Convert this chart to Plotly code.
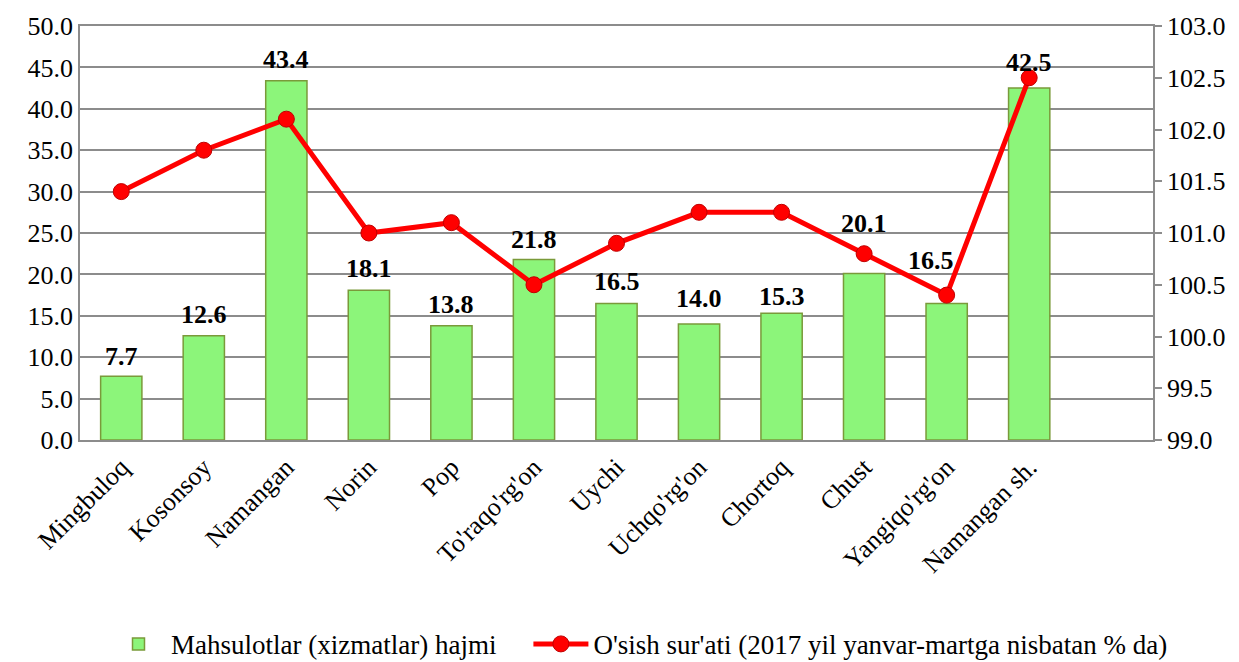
import plotly.graph_objects as go

categories = ["Mingbuloq", "Kosonsoy", "Namangan", "Norin", "Pop", "To'raqo'rg'on",
              "Uychi", "Uchqo'rg'on", "Chortoq", "Chust", "Yangiqo'rg'on", "Namangan sh."]
volume = [7.7, 12.6, 43.4, 18.1, 13.8, 21.8, 16.5, 14.0, 15.3, 20.1, 16.5, 42.5]
growth = [101.4, 101.8, 102.1, 101.0, 101.1, 100.5, 100.9, 101.2, 101.2, 100.8, 100.4, 102.5]

# label offsets (pixels) above each bar top, as placed in the reference
label_dy = [20, 21, 21, 22, 21, 20, 22, 26, 17, 50, 43, 26]
label_dx = [0, 0, 0, 0, 0, 0, 0, 0, 0, 0, -16, 0]

bar_name = "Mahsulotlar (xizmatlar) hajmi"
line_name = "O'sish sur'ati (2017 yil yanvar-martga nisbatan % da)"

FONT = "Liberation Serif"
GRID = "#8c8c8c"
FS = 26

fig = go.Figure()
fig.add_trace(go.Bar(
    x=categories, y=volume, name=bar_name + "\u00a0" * 4, width=0.5,
    marker=dict(color="#8cf57a", line=dict(color="#7a9a3a", width=1.5)),
))
fig.add_trace(go.Scatter(
    x=categories, y=growth, name=line_name, yaxis="y2", mode="lines+markers",
    line=dict(color="#ff0000", width=5),
    marker=dict(size=16, color="#ff0000", line=dict(color="#c00000", width=1)),
    cliponaxis=False,
))

for c, v, dy, dx in zip(categories, volume, label_dy, label_dx):
    fig.add_annotation(
        x=c, y=v, xref="x", yref="y", text=f"{v:.1f}", showarrow=False,
        yanchor="middle", xanchor="center", yshift=dy, xshift=dx,
        font=dict(family=FONT, size=FS, color="black", weight="bold"),
    )

fig.update_layout(
    width=1231, height=654,
    margin=dict(l=72, r=86, t=18, b=222, autoexpand=False),
    plot_bgcolor="white", paper_bgcolor="white",
    font=dict(family=FONT, size=FS, color="black"),
    showlegend=True,
    legend=dict(orientation="h", x=0.513, xanchor="center", xref="container",
                y=0.027, yanchor="middle", yref="container", itemwidth=55,
                font=dict(family=FONT, size=27), traceorder="normal"),
    xaxis=dict(type="category", range=[-0.5, 12.5], tickangle=-45, automargin=False,
               showline=True, linecolor=GRID, linewidth=1.5, mirror=True,
               showgrid=False, ticks="", tickfont=dict(family=FONT, size=FS)),
    yaxis=dict(range=[0, 50], dtick=5, tickformat=".1f", showgrid=True, automargin=False,
               gridcolor=GRID, gridwidth=1.5, showline=True, linecolor=GRID,
               linewidth=1.5, ticks="", zeroline=False,
               tickfont=dict(family=FONT, size=FS)),
    yaxis2=dict(range=[99, 103], dtick=0.5, tickformat=".1f", overlaying="y",
                side="right", showgrid=False, showline=True, linecolor=GRID,
                linewidth=1.5, ticks="outside", ticklen=7, tickcolor=GRID,
                tickwidth=1.5, zeroline=False, automargin=False,
                tickfont=dict(family=FONT, size=FS)),
)

fig.write_html("out.html")
